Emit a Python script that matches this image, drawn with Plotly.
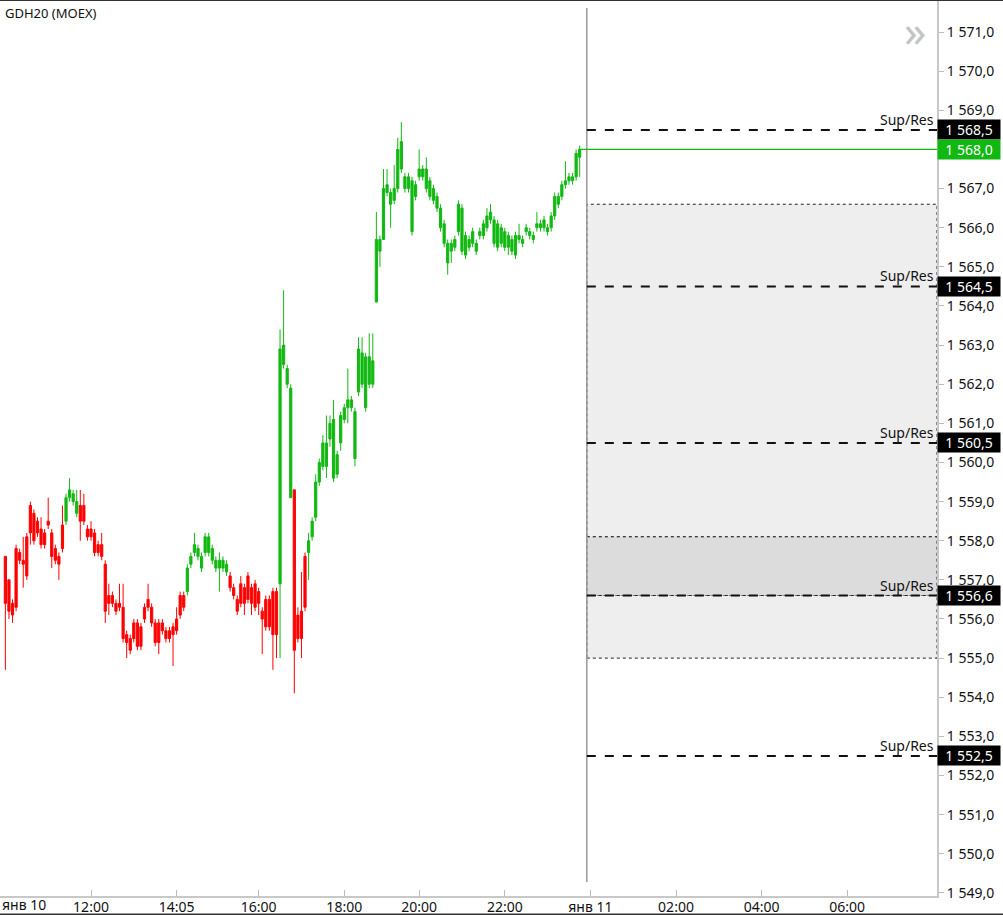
import plotly.graph_objects as go

# ---------------- data (5-minute candles, GDH20, 10 Jan) ----------------
OPEN = [
    1557.6, 1557.0, 1556.4, 1557.8, 1557.7, 1557.5, 1558.1, 1558.9, 1558.7, 1558.5,
    1558.3, 1558.2, 1558.5, 1558.2, 1557.8, 1557.6, 1558.4, 1558.5, 1559.1, 1559.0,
    1558.7, 1558.9, 1558.9, 1558.3, 1558.3, 1558.2, 1557.9, 1557.9, 1557.4, 1556.6,
    1556.6, 1556.4, 1556.4, 1556.3, 1555.6, 1555.5, 1555.9, 1555.9, 1555.8, 1556.3,
    1556.5, 1556.3, 1555.9, 1555.9, 1555.9, 1555.7, 1555.7, 1555.8, 1556.0, 1556.6,
    1556.6, 1556.7, 1557.4, 1557.7, 1557.6, 1557.3, 1557.7, 1557.7, 1557.5, 1557.3,
    1557.3, 1557.3, 1557.2, 1557.1, 1556.8, 1556.5, 1556.9, 1556.8, 1557.1, 1556.8,
    1556.9, 1556.7, 1556.2, 1556.5, 1556.5, 1556.7, 1556.7, 1556.9, 1562.5, 1562.0,
    1559.1, 1559.3, 1556.1, 1556.2, 1557.6, 1557.7, 1558.1, 1558.6, 1559.5, 1559.9,
    1559.9, 1560.6, 1559.6, 1559.7, 1560.5, 1561.1, 1561.4, 1561.4, 1560.1, 1561.8,
    1562.0, 1561.4, 1562.0, 1562.0, 1564.1, 1565.4, 1565.7, 1566.9, 1566.6, 1566.7,
    1567.0, 1567.5, 1567.0, 1567.0, 1565.9, 1566.8, 1567.3, 1567.3, 1567.0, 1566.8,
    1566.7, 1566.5, 1566.0, 1565.6, 1565.1, 1565.4, 1565.5, 1565.9, 1565.4, 1565.3,
    1565.5, 1565.6, 1565.4, 1565.8, 1565.8, 1566.0, 1566.2, 1565.6, 1565.5, 1565.6,
    1565.5, 1565.5, 1565.4, 1565.3, 1565.7, 1565.6, 1565.9, 1565.8, 1565.7, 1566.0,
    1566.0, 1566.0, 1565.9, 1566.0, 1566.3, 1566.6, 1566.8, 1567.1, 1567.2, 1567.2,
    1567.3, 1567.8,
]
HIGH = [
    1557.6, 1557.0, 1556.5, 1557.9, 1557.8, 1558.1, 1558.2, 1559.0, 1558.8, 1558.6,
    1558.6, 1558.3, 1559.1, 1558.3, 1557.9, 1557.7, 1558.9, 1559.2, 1559.6, 1559.3,
    1559.3, 1559.3, 1559.2, 1558.4, 1558.5, 1558.3, 1558.0, 1558.2, 1557.5, 1556.9,
    1556.7, 1556.5, 1556.9, 1556.9, 1555.7, 1555.6, 1556.0, 1556.0, 1555.9, 1556.4,
    1556.9, 1556.4, 1556.0, 1556.0, 1556.0, 1555.8, 1555.8, 1555.9, 1556.3, 1556.7,
    1556.7, 1557.4, 1557.7, 1558.2, 1557.9, 1557.7, 1558.2, 1558.2, 1557.9, 1557.6,
    1557.7, 1557.6, 1557.5, 1557.2, 1556.9, 1556.6, 1557.1, 1556.9, 1557.2, 1556.9,
    1557.0, 1556.8, 1556.3, 1556.6, 1556.6, 1556.8, 1556.8, 1563.4, 1564.4, 1562.5,
    1562.0, 1559.3, 1556.3, 1557.2, 1557.7, 1558.2, 1558.6, 1559.7, 1560.1, 1560.7,
    1561.2, 1561.2, 1561.6, 1560.3, 1561.3, 1561.5, 1562.4, 1561.7, 1561.4, 1563.2,
    1563.2, 1562.8, 1563.3, 1563.3, 1566.4, 1565.8, 1567.5, 1567.5, 1567.0, 1567.6,
    1568.3, 1568.7, 1567.4, 1567.4, 1567.3, 1567.2, 1568.0, 1567.6, 1567.8, 1567.3,
    1567.1, 1566.9, 1566.6, 1566.2, 1565.7, 1565.7, 1565.8, 1566.7, 1566.6, 1565.9,
    1565.8, 1566.0, 1565.7, 1566.0, 1566.2, 1566.5, 1566.6, 1566.3, 1566.2, 1566.1,
    1566.0, 1565.9, 1565.8, 1565.9, 1566.1, 1565.8, 1566.1, 1566.0, 1565.9, 1566.4,
    1566.2, 1566.3, 1566.1, 1566.4, 1566.9, 1566.9, 1567.2, 1567.7, 1567.4, 1567.4,
    1568.0, 1568.1,
]
LOW = [
    1554.7, 1556.0, 1555.9, 1556.2, 1557.4, 1556.8, 1557.0, 1557.9, 1557.9, 1558.1,
    1557.8, 1557.8, 1558.3, 1557.3, 1557.4, 1557.0, 1557.7, 1558.4, 1559.0, 1558.9,
    1558.6, 1558.0, 1558.4, 1558.0, 1558.0, 1557.6, 1557.6, 1557.5, 1555.9, 1556.1,
    1556.3, 1556.1, 1556.2, 1555.4, 1555.0, 1555.1, 1555.4, 1555.2, 1555.2, 1555.9,
    1556.2, 1555.8, 1555.3, 1555.1, 1555.6, 1555.4, 1555.4, 1554.8, 1555.6, 1556.0,
    1556.2, 1556.6, 1557.3, 1557.6, 1557.5, 1557.2, 1557.6, 1557.6, 1557.4, 1557.2,
    1556.7, 1557.2, 1557.1, 1556.7, 1556.5, 1556.1, 1556.3, 1556.1, 1556.4, 1556.1,
    1556.2, 1556.1, 1555.1, 1555.7, 1555.7, 1554.7, 1555.0, 1555.0, 1562.4, 1561.9,
    1559.1, 1554.1, 1555.4, 1555.0, 1556.2, 1557.0, 1558.0, 1558.5, 1559.4, 1559.8,
    1559.6, 1560.4, 1559.5, 1559.6, 1560.3, 1561.0, 1561.0, 1561.3, 1559.9, 1561.7,
    1561.9, 1561.3, 1561.9, 1561.9, 1564.1, 1565.0, 1565.7, 1566.8, 1566.0, 1566.6,
    1566.9, 1567.4, 1566.9, 1566.9, 1565.8, 1566.7, 1567.2, 1567.2, 1566.9, 1566.7,
    1566.6, 1566.4, 1565.9, 1565.5, 1564.8, 1565.1, 1565.4, 1565.8, 1565.3, 1565.2,
    1565.4, 1565.5, 1565.3, 1565.7, 1565.7, 1565.9, 1566.1, 1565.5, 1565.4, 1565.5,
    1565.4, 1565.3, 1565.3, 1565.2, 1565.6, 1565.5, 1565.8, 1565.7, 1565.6, 1565.9,
    1565.9, 1565.9, 1565.8, 1565.9, 1566.2, 1566.5, 1566.7, 1567.0, 1567.1, 1567.1,
    1567.2, 1567.3,
]
CLOSE = [
    1556.4, 1556.2, 1556.1, 1556.3, 1557.5, 1557.4, 1557.1, 1558.2, 1558.0, 1558.2,
    1557.9, 1557.9, 1558.4, 1557.6, 1557.5, 1557.4, 1557.8, 1559.1, 1559.3, 1559.2,
    1559.0, 1558.5, 1558.5, 1558.1, 1558.1, 1557.7, 1557.7, 1557.6, 1556.2, 1556.4,
    1556.4, 1556.2, 1556.3, 1555.5, 1555.4, 1555.2, 1555.5, 1555.3, 1555.3, 1556.0,
    1556.3, 1555.9, 1555.4, 1555.4, 1555.7, 1555.5, 1555.5, 1555.6, 1555.7, 1556.1,
    1556.3, 1557.3, 1557.6, 1557.9, 1557.8, 1557.6, 1558.1, 1558.1, 1557.8, 1557.5,
    1557.5, 1557.5, 1557.4, 1556.8, 1556.6, 1556.2, 1556.4, 1556.4, 1556.5, 1556.4,
    1556.3, 1556.4, 1556.0, 1555.8, 1555.8, 1555.6, 1555.6, 1562.9, 1563.0, 1562.4,
    1561.9, 1555.2, 1555.5, 1555.5, 1556.3, 1558.0, 1558.5, 1559.5, 1560.0, 1560.5,
    1560.5, 1561.0, 1561.1, 1560.2, 1561.2, 1561.4, 1561.6, 1561.6, 1561.3, 1562.9,
    1562.8, 1562.7, 1562.7, 1562.6, 1565.7, 1565.7, 1567.0, 1567.1, 1566.9, 1567.0,
    1568.0, 1568.2, 1567.3, 1567.3, 1567.2, 1567.1, 1567.5, 1567.5, 1567.5, 1567.2,
    1567.0, 1566.8, 1566.5, 1566.1, 1565.6, 1565.6, 1565.7, 1566.6, 1566.5, 1565.8,
    1565.7, 1565.9, 1565.6, 1565.9, 1566.1, 1566.3, 1566.4, 1566.2, 1566.1, 1566.0,
    1565.9, 1565.8, 1565.7, 1565.8, 1565.8, 1565.7, 1566.0, 1565.9, 1565.8, 1566.1,
    1566.1, 1566.2, 1566.0, 1566.3, 1566.8, 1566.8, 1567.1, 1567.2, 1567.3, 1567.3,
    1567.9, 1568.0,
]
# colour regime of the candles (runs of consecutive candles)
REGIME_RUNS = [("down", 17), ("up", 4), ("down", 30), ("up", 12),
               ("down", 14), ("up", 4), ("down", 4), ("up", 77)]

LAST_PRICE = 1568.0
LAST_PRICE_TEXT = "1 568,0"
SUPRES_LEVELS = [1568.5, 1564.5, 1560.5, 1556.6, 1552.5]
SUPRES_TEXT = ["1 568,5", "1 564,5", "1 560,5", "1 556,6", "1 552,5"]
ZONES_LIGHT = [(1558.1, 1566.6), (1555.0, 1556.6)]
ZONES_DARK = [(1556.6, 1558.1)]

# time axis: candle slot of each labelled time
TIME_TICK_SLOTS = [24, 48, 71, 95, 116, 140, 164, 188, 212, 236]
TIME_TICK_TEXT = ["12:00", "14:05", "16:00", "18:00", "20:00", "22:00",
                  "янв 11", "02:00", "04:00", "06:00"]
FIRST_DAY_TEXT = "янв 10"
NOW_SLOT = 163
PRICE_TICKS = [1549.0 + k for k in range(23)]

X_RANGE = [-1.51, 261.17]
Y_RANGE = [1548.92, 1571.82]

GREEN = "#12B812"
RED = "#FF0000"
FONT = "Noto Sans"


def fmt_price(v):
    s = f"{v:,.1f}"
    return s.replace(",", " ").replace(".", ",")


regimes = []
for name, n in REGIME_RUNS:
    regimes += [name] * n

fig = go.Figure()
for name, col in (("down", RED), ("up", GREEN)):
    idx = [i for i, r in enumerate(regimes) if r == name]
    fig.add_trace(go.Candlestick(
        x=idx,
        open=[OPEN[i] for i in idx], high=[HIGH[i] for i in idx],
        low=[LOW[i] for i in idx], close=[CLOSE[i] for i in idx],
        increasing=dict(line=dict(color=col, width=1), fillcolor=col),
        decreasing=dict(line=dict(color=col, width=1), fillcolor=col),
        whiskerwidth=0, showlegend=False, hoverinfo="skip",
    ))

shapes = []
for lo, hi in ZONES_LIGHT:
    shapes.append(dict(type="rect", xref="x", yref="y", x0=NOW_SLOT, x1=X_RANGE[1],
                       y0=lo, y1=hi, fillcolor="#EEEEEE",
                       line=dict(color="#222222", width=1, dash="dot"), layer="below"))
for lo, hi in ZONES_DARK:
    shapes.append(dict(type="rect", xref="x", yref="y", x0=NOW_SLOT, x1=X_RANGE[1],
                       y0=lo, y1=hi, fillcolor="#DCDCDC",
                       line=dict(color="#222222", width=1, dash="dot"), layer="below"))
# separator "now"
shapes.append(dict(type="line", xref="x", yref="paper", x0=NOW_SLOT, x1=NOW_SLOT,
                   y0=0.0156, y1=0.991, line=dict(color="#999999", width=1.5)))
for lv in SUPRES_LEVELS:
    shapes.append(dict(type="line", xref="x", yref="y", x0=NOW_SLOT, x1=X_RANGE[1],
                       y0=lv, y1=lv, line=dict(color="#111111", width=2, dash="dash")))
shapes.append(dict(type="line", xref="x", yref="y", x0=len(CLOSE) - 1, x1=X_RANGE[1],
                   y0=LAST_PRICE, y1=LAST_PRICE, line=dict(color=GREEN, width=1.2)))
# frame lines
shapes.append(dict(type="line", xref="paper", yref="paper", x0=0, x1=1.08, y0=1, y1=1,
                   line=dict(color="#333333", width=2)))
shapes.append(dict(type="line", xref="paper", yref="paper", x0=0, x1=1.08,
                   y0=-0.0206, y1=-0.0206, line=dict(color="#333333", width=2)))

ann = [
    dict(text="GDH20 (MOEX)", xref="paper", yref="paper", x=0.003, y=0.998,
         xanchor="left", yanchor="top", showarrow=False,
         font=dict(family=FONT, size=13, color="#111111")),
    dict(text="»", xref="paper", yref="paper", x=0.976, y=0.966,
         xanchor="center", yanchor="middle", showarrow=False,
         font=dict(family=FONT, size=44, color="#C4C4C4")),
    dict(text=FIRST_DAY_TEXT, xref="paper", yref="paper", x=0.0, y=-0.0095,
         xanchor="left", yanchor="middle", showarrow=False,
         font=dict(family=FONT, size=14, color="#111111")),
]
for lv, txt in zip(SUPRES_LEVELS, SUPRES_TEXT):
    ann.append(dict(text="Sup/Res", xref="paper", yref="y", x=0.999, y=lv,
                    xanchor="right", yanchor="bottom", showarrow=False, yshift=-1,
                    font=dict(family=FONT, size=14, color="#111111")))
    ann.append(dict(text=txt, xref="paper", yref="y", x=1.0, y=lv,
                    xanchor="left", yanchor="middle", showarrow=False,
                    bgcolor="#000000", width=62, align="center", borderpad=0,
                    font=dict(family=FONT, size=14, color="#FFFFFF")))
ann.append(dict(text=LAST_PRICE_TEXT, xref="paper", yref="y", x=1.0, y=LAST_PRICE,
                xanchor="left", yanchor="middle", showarrow=False,
                bgcolor=GREEN, width=62, align="center", borderpad=0,
                font=dict(family=FONT, size=14, color="#FFFFFF")))

fig.update_layout(
    width=1003, height=915,
    margin=dict(l=0, r=66, t=0, b=19, autoexpand=False),
    paper_bgcolor="white", plot_bgcolor="white",
    shapes=shapes, annotations=ann,
    boxgap=0.12,
    font=dict(family=FONT, size=14, color="#111111"),
    xaxis=dict(range=X_RANGE, tickmode="array", tickvals=TIME_TICK_SLOTS,
               ticktext=TIME_TICK_TEXT, ticks="inside", ticklen=6, tickcolor="#BBBBBB",
               showline=True, linecolor="#C8C8C8", linewidth=1.5, showgrid=False,
               zeroline=False, rangeslider=dict(visible=False), automargin=False,
               ticklabelstandoff=-3,
               tickfont=dict(family=FONT, size=14, color="#111111")),
    yaxis=dict(range=Y_RANGE, side="right", tickmode="array", tickvals=PRICE_TICKS,
               ticktext=[fmt_price(v) for v in PRICE_TICKS], ticks="outside",
               ticklen=5, tickcolor="#BBBBBB", showline=True, linecolor="#C8C8C8",
               linewidth=2, showgrid=False, zeroline=False, automargin=False,
               tickfont=dict(family=FONT, size=14, color="#111111")),
)

fig.write_html("out.html", config={"displayModeBar": False},
               post_script="document.body.style.margin='0';")
